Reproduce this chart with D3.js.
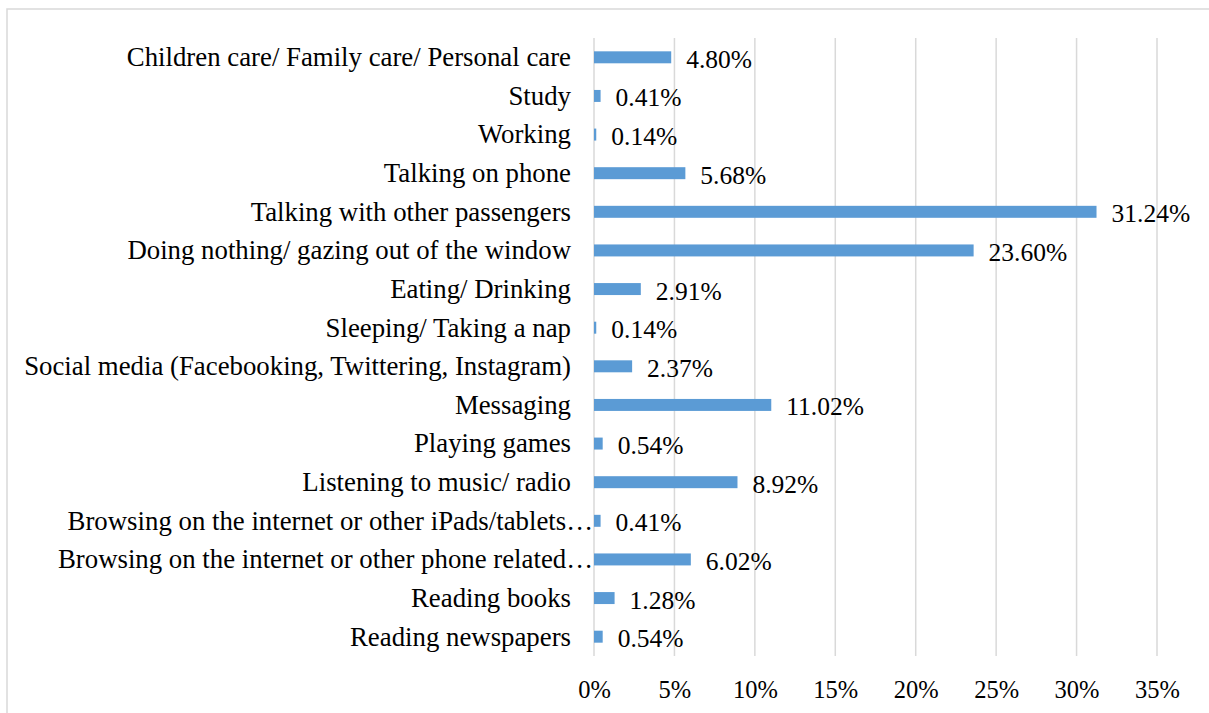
<!DOCTYPE html>
<html>
<head>
<meta charset="utf-8">
<script src="https://cdn.jsdelivr.net/npm/d3@7"></script>
<style>
  body { margin: 0; background: #fff; }
  text { font-family: "Liberation Serif", "Times New Roman", serif; fill: #000; }
</style>
</head>
<body>
<svg id="chart" width="1209" height="713"></svg>
<script>
// categories, top to bottom
var categories = [
    "Children care/ Family care/ Personal care",
    "Study",
    "Working",
    "Talking on phone",
    "Talking with other passengers",
    "Doing nothing/ gazing out of the window",
    "Eating/ Drinking",
    "Sleeping/ Taking a nap",
    "Social media (Facebooking, Twittering, Instagram)",
    "Messaging",
    "Playing games",
    "Listening to music/ radio",
    "Browsing on the internet or other iPads/tablets\u2026",
    "Browsing on the internet or other phone related\u2026",
    "Reading books",
    "Reading newspapers"
];
var values = [4.80, 0.41, 0.14, 5.68, 31.24, 23.60, 2.91, 0.14, 2.37, 11.02, 0.54, 8.92, 0.41, 6.02, 1.28, 0.54];
var ticks = [0, 5, 10, 15, 20, 25, 30, 35];

var svg = d3.select('#chart');
var serif = '"Liberation Serif", "Times New Roman", serif';

// outer frame (runs off the right and bottom edge)
svg.append('rect')
    .attr('x', 7).attr('y', 9)
    .attr('width', 1260).attr('height', 760)
    .attr('fill', 'none')
    .attr('stroke', '#d9d9d9')
    .attr('stroke-width', 1.5);

var plot = {l: 594, r: 1157, t: 38, b: 656};

var xScale = d3.scaleLinear()
    .domain([0, 35])
    .range([plot.l, plot.r]);

var yScale = d3.scaleBand()
    .domain(categories)
    .range([plot.t, plot.b])
    .paddingInner(0.69)
    .paddingOuter(0.345);

// gridlines
svg.append('g').selectAll('line')
    .data(ticks)
    .enter().append('line')
    .attr('x1', function(d) { return xScale(d); })
    .attr('x2', function(d) { return xScale(d); })
    .attr('y1', plot.t)
    .attr('y2', plot.b)
    .attr('stroke', '#d9d9d9')
    .attr('stroke-width', 1.5);

// x axis labels
var xAxis = d3.axisBottom(xScale)
    .tickValues(ticks)
    .tickSize(0)
    .tickPadding(0)
    .tickFormat(function(d) { return d + '%'; });

var xg = svg.append('g')
    .attr('transform', 'translate(0,698)')
    .call(xAxis);
xg.select('.domain').remove();
xg.selectAll('text')
    .style('font-family', serif)
    .style('font-size', '24.5px')
    .attr('y', 0)
    .attr('dy', 0);

// category labels
var yAxis = d3.axisLeft(yScale)
    .tickSize(0)
    .tickPadding(23);

var yg = svg.append('g')
    .attr('transform', 'translate(' + plot.l + ',0)')
    .call(yAxis);
yg.select('.domain').remove();
yg.selectAll('text')
    .style('font-family', serif)
    .style('font-size', '26.8px')
    .attr('dy', '0.33em');
// truncated labels run right up to the axis
yg.selectAll('text')
    .filter(function(d) { return d.slice(-1) === '\u2026'; })
    .attr('x', -1);

var rows = categories.map(function(c, i) { return {name: c, value: values[i]}; });

// bars
svg.append('g').selectAll('rect')
    .data(rows)
    .enter().append('rect')
    .attr('x', xScale(0))
    .attr('y', function(d) { return yScale(d.name); })
    .attr('width', function(d) { return xScale(d.value) - xScale(0); })
    .attr('height', yScale.bandwidth())
    .attr('fill', '#5b9bd5');

// value labels
svg.append('g').selectAll('text')
    .data(rows)
    .enter().append('text')
    .attr('x', function(d) { return xScale(d.value) + 15; })
    .attr('y', function(d) { return yScale(d.name) + yScale.bandwidth() / 2 + 10.5; })
    .style('font-size', '25.5px')
    .text(function(d) { return d.value.toFixed(2) + '%'; });
</script>
</body>
</html>
